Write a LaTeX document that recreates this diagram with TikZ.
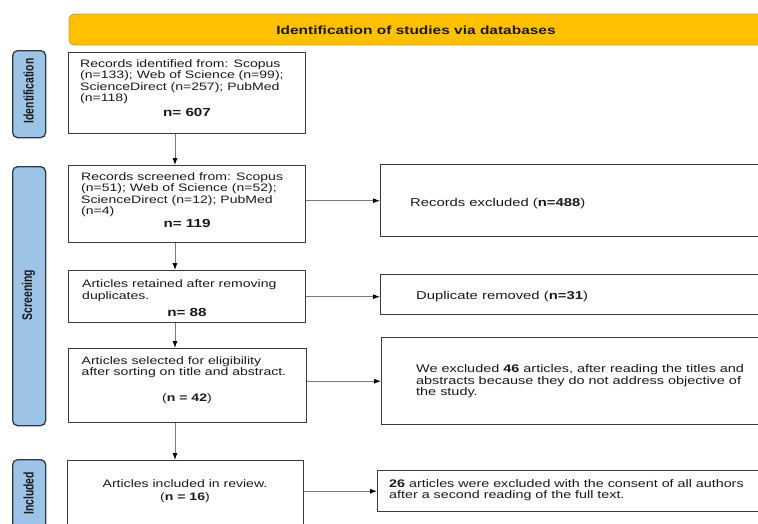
\documentclass[tikz,border=0pt]{standalone}
\usepackage{fontspec}
\usepackage{graphicx}
\setmainfont{Liberation Sans}[FakeStretch=1.3]
\newfontfamily\tabfont{Liberation Sans}
\usetikzlibrary{arrows.meta}
\definecolor{banner}{HTML}{FFC000}
\definecolor{bannerline}{HTML}{C8A23C}
\definecolor{tabfill}{HTML}{9DC3E6}
\definecolor{tabline}{HTML}{2E3A4A}
\definecolor{boxline}{HTML}{3A3A3A}
\definecolor{arrline}{HTML}{7A7A7A}
\definecolor{ink}{HTML}{1A1A1A}
\begin{document}
\begin{tikzpicture}[x=1pt,y=-1pt,
  box/.style={draw=boxline, line width=1.4pt, fill=white, rectangle, inner sep=0pt, anchor=north west},
  tab/.style={draw=tabline, line width=1.3pt, fill=tabfill, rectangle, rounded corners=5pt, inner sep=0pt, anchor=north west},
  tabtxt/.style={rotate=90, inner sep=0pt, text=ink, font=\tabfont\bfseries\fontsize{10.4}{12}\selectfont},
  txt/.style={inner sep=0pt, anchor=base west, align=left, text=ink, font=\fontsize{10.8}{11.6}\selectfont},
  ctxt/.style={inner sep=0pt, anchor=base, align=center, text=ink, font=\fontsize{10.8}{13}\selectfont},
  bnum/.style={inner sep=0pt, anchor=base, text=ink, font=\bfseries\fontsize{11.7}{13}\selectfont},
  rtxt/.style={inner sep=0pt, anchor=base west, text=ink, font=\fontsize{11.4}{12}\selectfont},
  arr/.style={draw=arrline, line width=0.9pt, -{Latex[length=7pt,width=5pt,black]}},
]
\useasboundingbox (0,0) rectangle (758,523);

% banner
\path[draw=bannerline, line width=0.9pt, fill=banner, rounded corners=6pt]
  (775,14) -- (69,14) -- (69,45) -- (775,45);
\node[inner sep=0pt, anchor=base, text=ink, font=\bfseries\fontsize{11.9}{13}\selectfont] (title) at (416,34) {Identification of studies via databases};

% side tabs
\node[tab, minimum width=33pt, minimum height=87pt] (tid) at (12,50) {};
\node[tabtxt] (tidl) at (28.5,91) {\scalebox{1}[1.35]{Identification}};
\node[tab, minimum width=33pt, minimum height=259pt] (tsc) at (12,166) {};
\node[tabtxt] (tscl) at (28.5,295) {\scalebox{1}[1.35]{Screening}};
\node[tab, minimum width=33pt, minimum height=75pt] (tin) at (12,459) {};
\node[tabtxt] (tinl) at (28.5,493.5) {\scalebox{1}[1.35]{Included}};

% main column boxes (base anchor of multi-line text = last line)
\node[box, minimum width=237pt, minimum height=81pt] (b1) at (68,52) {};
\node[txt] (t1) at (80,101.8) {Records identified from: Scopus\\(n=133); Web of Science (n=99);\\ScienceDirect (n=257); PubMed\\(n=118)};
\node[bnum] (n1) at (187,116.5) {n= 607};

\node[box, minimum width=237pt, minimum height=77pt] (b2) at (68,165) {};
\node[txt] (t2) at (81,214.8) {Records screened from: Scopus\\(n=51); Web of Science (n=52);\\ScienceDirect (n=12); PubMed\\(n=4)};
\node[bnum] (n2) at (187,227.5) {n= 119};

\node[box, minimum width=237pt, minimum height=52pt] (b3) at (68,270) {};
\node[txt] (t3) at (82,299.1) {Articles retained after removing\\duplicates.};
\node[bnum] (n3) at (187,316) {n= 88};

\node[box, minimum width=238pt, minimum height=74pt] (b4) at (68,348) {};
\node[txt] (t4) at (81.5,375.6) {Articles selected for eligibility\\after sorting on title and abstract.};
\node[ctxt] (n4) at (187,401) {({\bfseries n = 42})};

\node[box, minimum width=236pt, minimum height=80pt] (b5) at (67,460) {};
\node[ctxt] (t5) at (185,500) {Articles included in review.\\({\bfseries n = 16})};

% right column boxes
\node[box, minimum width=400pt, minimum height=72pt] (e1) at (380,164) {};
\node[rtxt] (s1) at (410,206) {Records excluded ({\bfseries n=488})};

\node[box, minimum width=400pt, minimum height=40pt] (e2) at (380,274) {};
\node[rtxt] (s2) at (416,299) {Duplicate removed ({\bfseries n=31})};

\node[box, minimum width=400pt, minimum height=87pt] (e3) at (381,337) {};
\node[txt, font=\fontsize{11.1}{11.7}\selectfont] (s3) at (416,395.9) {We excluded {\bfseries 46} articles, after reading the titles and\\abstracts because they do not address objective of\\the study.};

\node[box, minimum width=400pt, minimum height=41pt] (e4) at (377,470) {};
\node[txt, font=\fontsize{11}{11.8}\selectfont] (s4) at (389,498.8) {{\bfseries 26} articles were excluded with the consent of all authors\\after a second reading of the full text.};

% vertical arrows
\coordinate (ax) at (175,0);
\draw[arr] (b1.south -| ax) -- (b2.north -| ax);
\draw[arr] (b2.south -| ax) -- (b3.north -| ax);
\draw[arr] (b3.south -| ax) -- (b4.north -| ax);
\draw[arr] (b4.south -| ax) -- (b5.north -| ax);

% horizontal arrows
\draw[arr] (b2.east |- e1.west) -- (e1.west);
\draw[arr] (b3.east) -- (e2.west |- b3.east);
\draw[arr] (b4.east |- e3.west) -- (e3.west);
\draw[arr] (b5.east |- e4.west) -- (e4.west);
\end{tikzpicture}
\end{document}
